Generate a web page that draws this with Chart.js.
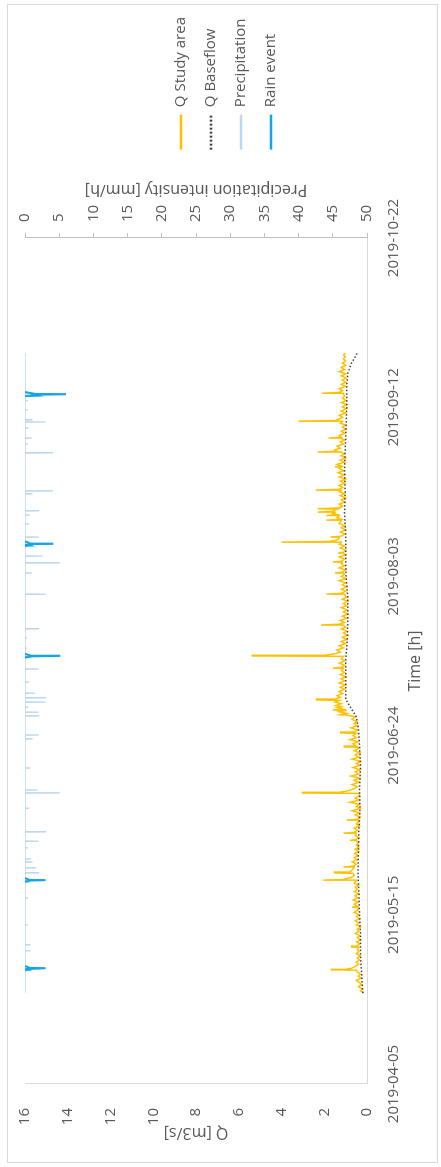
<!DOCTYPE html>
<html>
<head>
<meta charset="utf-8">
<script src="https://cdn.jsdelivr.net/npm/chart.js@4.4.1/dist/chart.umd.min.js"></script>
<style>
  html, body { margin: 0; padding: 0; background: #fff; width: 441px; height: 1167px; overflow: hidden; }
  /* the chart is built landscape and turned a quarter turn counter-clockwise */
  #frame { position: absolute; left: 0; top: 0; width: 1167px; height: 441px;
           transform-origin: 0 0; transform: translate(0, 1167px) rotate(-90deg); }
  #border { position: absolute; left: 4px; top: 7px; width: 1159px; height: 431px;
            border: 1px solid #d9d9d9; box-sizing: border-box; }
  canvas { position: absolute; left: 0; top: 0; }
</style>
</head>
<body>
<div id="frame">
  <div id="border"></div>
  <canvas id="chart" width="1167" height="441"></canvas>
</div>
<script>
// Time axis: days since 2019-04-05
const dateLabels = ['2019-04-05', '2019-05-15', '2019-06-24', '2019-08-03', '2019-09-12', '2019-10-22'];

// Q Study area [m3/s]
const qDays = [21.5, 22.0, 22.5, 23.0, 23.5, 24.0, 24.5, 25.0, 25.5, 26.0, 26.5, 26.9, 27.0, 27.1, 27.4, 27.8,
  28.3, 28.8, 29.3, 29.8, 30.3, 30.8, 31.3, 31.8, 32.3, 32.4, 32.6, 33.1, 33.6, 34.1, 34.6, 35.1, 35.6, 36.1,
  36.6, 37.1, 37.6, 38.1, 38.6, 39.1, 39.6, 40.1, 40.6, 41.1, 41.7, 41.8, 42.0, 42.5, 43.0, 43.5, 44.0, 44.5,
  45.0, 45.5, 46.0, 46.5, 47.0, 47.5, 48.1, 48.2, 48.35, 48.8, 49.3, 49.8, 49.9, 50.1, 50.6, 51.2, 51.3, 51.5,
  52.0, 52.5, 53.0, 53.5, 54.0, 54.5, 55.0, 55.5, 56.0, 56.5, 57.0, 57.5, 57.6, 57.8, 58.3, 58.8, 59.2, 59.3,
  59.5, 60.0, 60.5, 61.0, 61.5, 62.0, 62.3, 62.4, 62.6, 63.1, 63.6, 64.1, 64.6, 65.1, 65.6, 66.1, 66.6, 67.1,
  67.6, 68.1, 68.7, 68.8, 68.95, 69.3, 69.8, 70.3, 70.8, 71.3, 71.8, 72.3, 72.8, 73.3, 73.8, 74.3, 74.8, 75.3,
  75.8, 76.3, 76.8, 77.3, 77.8, 78.3, 78.8, 79.3, 79.6, 79.7, 79.9, 80.4, 80.9, 81.4, 81.9, 82.4, 82.9, 83.0,
  83.2, 83.7, 84.2, 84.7, 85.2, 85.7, 86.2, 86.8, 87.2, 87.3, 87.6, 88.0, 88.3, 88.4, 88.6, 89.0, 89.2, 89.5,
  89.9, 90.3, 90.7, 90.8, 91.0, 91.4, 91.8, 92.3, 92.8, 93.3, 93.8, 94.3, 94.8, 95.3, 95.8, 96.3, 96.8, 97.3,
  97.8, 98.2, 98.3, 98.5, 99.0, 99.5, 100.0, 100.5, 101.1, 101.2, 101.35, 101.7, 102.1, 102.6, 103.1, 103.6,
  104.1, 104.6, 105.1, 105.6, 106.1, 106.6, 107.1, 107.6, 108.0, 108.4, 108.5, 108.7, 109.1, 109.6, 110.1,
  110.6, 111.1, 111.6, 112.1, 112.6, 113.1, 113.6, 114.1, 114.6, 115.1, 115.7, 115.8, 116.0, 116.5, 117.0,
  117.5, 118.0, 118.5, 119.0, 119.5, 120.0, 120.5, 120.7, 120.8, 121.0, 121.5, 122.0, 122.5, 123.0, 123.3,
  123.4, 123.6, 124.1, 124.6, 125.1, 125.4, 125.5, 125.7, 126.2, 126.7, 127.2, 127.6, 128.0, 128.1, 128.25,
  128.5, 128.8, 129.2, 129.3, 129.5, 130.0, 130.5, 131.0, 131.5, 132.0, 132.5, 133.2, 133.3, 133.5, 133.9,
  134.3, 134.4, 134.6, 134.9, 135.1, 135.2, 135.4, 135.7, 135.9, 136.0, 136.2, 136.6, 137.1, 137.6, 138.1,
  138.6, 139.1, 139.6, 140.0, 140.3, 140.4, 140.6, 141.0, 141.5, 142.0, 142.5, 143.0, 143.5, 144.0, 144.5,
  145.0, 145.5, 145.8, 145.9, 146.1, 146.5, 147.0, 147.5, 148.0, 148.5, 149.0, 149.3, 149.4, 149.6, 149.9,
  150.3, 150.8, 151.3, 151.8, 152.2, 152.6, 152.7, 152.9, 153.3, 153.8, 154.3, 154.8, 155.3, 155.8, 156.2,
  156.6, 156.7, 156.85, 157.2, 157.6, 158.1, 158.6, 159.1, 159.6, 160.1, 160.6, 161.1, 161.6, 162.1, 162.6,
  163.2, 163.3, 163.5, 163.9, 164.4, 164.9, 165.4, 165.9, 166.4, 166.9, 167.4, 167.9, 168.4, 168.9, 169.4,
  169.9, 170.4, 170.9, 171.4, 171.9, 172.4, 172.8];
const qValues = [0.15, 0.3, 0.22, 0.4, 0.25, 0.35, 0.5, 0.28, 0.4, 0.3, 0.45, 0.5, 1.7, 1.0, 0.7, 0.55,
  0.4, 0.5, 0.35, 0.45, 0.32, 0.5, 0.38, 0.45, 0.4, 0.75, 0.45, 0.35, 0.48, 0.3, 0.45, 0.35, 0.55, 0.38,
  0.45, 0.3, 0.5, 0.38, 0.55, 0.35, 0.5, 0.4, 0.6, 0.42, 0.45, 0.7, 0.45, 0.6, 0.42, 0.65, 0.45, 0.55,
  0.4, 0.6, 0.45, 0.55, 0.4, 0.6, 0.5, 2.05, 1.1, 0.75, 0.6, 0.65, 1.55, 0.8, 0.7, 0.6, 1.1, 0.65,
  0.5, 0.7, 0.45, 0.6, 0.42, 0.58, 0.4, 0.55, 0.38, 0.5, 0.42, 0.5, 0.8, 0.5, 0.4, 0.55, 0.5, 1.1,
  0.6, 0.45, 0.6, 0.35, 0.5, 0.38, 0.42, 0.95, 0.45, 0.32, 0.55, 0.35, 0.7, 0.33, 0.5, 0.35, 0.8, 0.38,
  0.55, 0.35, 0.4, 3.05, 1.3, 0.9, 0.6, 0.45, 0.7, 0.38, 0.6, 0.35, 0.75, 0.38, 0.55, 0.32, 0.65, 0.35,
  0.5, 0.3, 0.7, 0.38, 0.55, 0.33, 0.6, 0.4, 0.45, 1.1, 0.5, 0.65, 0.42, 0.8, 0.5, 0.65, 0.5, 1.26,
  0.6, 0.45, 0.75, 0.45, 0.6, 0.48, 0.7, 0.55, 0.9, 1.25, 0.95, 1.3, 1.0, 1.6, 1.1, 1.4, 1.2, 1.45,
  1.2, 1.5, 1.3, 2.4, 1.5, 1.25, 1.4, 1.15, 1.3, 1.05, 1.25, 1.0, 1.3, 1.05, 1.2, 1.0, 1.25, 1.05,
  1.2, 1.1, 1.6, 1.2, 1.05, 1.3, 1.05, 1.2, 1.1, 5.4, 2.0, 1.5, 1.25, 1.4, 1.1, 1.3,
  1.0, 1.2, 0.95, 1.15, 0.9, 1.1, 0.95, 1.2, 1.0, 1.1, 2.15, 1.3, 1.05, 1.25, 0.95,
  1.15, 0.9, 1.1, 0.95, 1.2, 0.95, 1.1, 0.9, 1.15, 0.95, 1.05, 1.9, 1.2, 1.0, 1.2,
  0.95, 1.15, 1.0, 1.3, 1.0, 1.2, 1.05, 1.1, 1.5, 1.15, 1.0, 1.3, 1.05, 1.2, 1.15,
  1.6, 1.2, 1.05, 1.3, 1.0, 1.1, 1.35, 1.1, 1.0, 1.25, 1.05, 1.3, 1.2, 4.0, 1.8,
  1.5, 1.35, 1.3, 1.7, 1.2, 1.05, 1.25, 1.0, 1.2, 1.05, 1.3, 1.2, 1.9, 1.2, 1.4,
  1.3, 1.9, 1.4, 1.6, 1.5, 2.3, 1.6, 1.5, 1.4, 2.3, 1.3, 1.15, 1.3, 1.05, 1.2,
  1.0, 1.25, 1.05, 1.3, 1.2, 2.4, 1.3, 1.15, 1.3, 1.05, 1.25, 1.0, 1.3, 1.05, 1.35,
  1.1, 1.3, 1.2, 1.5, 1.2, 1.4, 1.05, 1.25, 1.0, 1.2, 1.05, 1.2, 2.3, 1.4, 1.5,
  1.25, 1.4, 1.1, 1.25, 1.05, 1.2, 1.8, 1.2, 1.3, 1.05, 1.2, 0.98, 1.15, 1.0, 1.25,
  1.15, 3.2, 1.5, 1.3, 1.15, 1.3, 1.0, 1.2, 0.98, 1.15, 0.95, 1.2, 0.98, 1.15, 1.05,
  1.1, 2.1, 1.3, 1.15, 1.3, 1.0, 1.2, 1.0, 1.15, 0.98, 1.2, 1.0, 1.3, 1.05, 1.2,
  1.0, 1.15, 1.0, 1.1, 1.02, 1.1, 1.0];

// Q Baseflow [m3/s]
const baseDays = [21.5, 26, 30, 35, 40, 45, 50, 55, 60, 65, 70, 75, 80, 84, 86.8, 91.0, 95, 100, 105, 110,
  115, 120, 125, 130, 135, 140, 145, 150, 155, 160, 165, 168, 170.5, 172.8];
const baseValues = [0.2, 0.25, 0.3, 0.3, 0.35, 0.38, 0.42, 0.4, 0.38, 0.33, 0.35, 0.3, 0.35, 0.4, 0.5, 1.0, 1.0, 1.0, 0.92, 0.9,
  0.9, 0.98, 1.0, 1.0, 1.05, 1.02, 1.05, 1.02, 0.98, 0.95, 0.95, 0.9, 0.72, 0.45];

// Precipitation intensity [mm/h]: hourly peaks, zero otherwise
const precipStart = 21.5, precipEnd = 172.8;
const precipDays = [27.2, 27.4, 31.5, 32.9, 37.6, 44.0, 48.2, 49.9, 51.1, 52.5, 53.2, 55.8, 57.4, 59.6, 65.2,
  68.8, 69.5, 74.7, 81.6, 82.5, 87.0, 87.9, 89.1, 90.3, 91.3, 92.4, 95.0, 98.1, 101.2, 103.0, 105.4, 107.6,
  115.8, 120.8, 123.2, 124.8, 127.7, 129.3, 132.4, 134.5, 135.5, 139.5, 140.2, 149.2, 151.3, 152.7, 155.1,
  156.5, 157.0, 159.3, 161.5, 163.1];
const precipValues = [0.8, 3.0, 0.8, 0.7, 0.3, 0.3, 3.0, 2.0, 1.5, 1.0, 0.8, 0.3, 2.0, 3.0, 0.6,
  5.0, 1.8, 0.8, 1.0, 2.0, 2.0, 2.0, 0.5, 3.0, 3.0, 1.5, 0.6, 2.0, 5.0, 0.3, 0.3, 2.0,
  3.0, 1.0, 5.0, 2.6, 4.0, 2.0, 0.5, 0.7, 2.0, 1.0, 4.0, 4.0, 0.4, 1.0, 0.4,
  3.0, 1.0, 0.4, 0.3, 6.0];

// Rain event [mm/h] (null separates events)
const rainDays = [26.9, 27.0, 27.2, 27.35, 27.4, 27.45, 27.7, 27.9, 28.0,
  47.8, 47.9, 48.1, 48.2, 48.25, 48.5, 48.7, 48.8,
  100.8, 100.9, 101.1, 101.2, 101.25, 101.5, 101.7, 101.8,
  127.2, 127.3, 127.5, 127.65, 127.7, 127.75, 128.0, 128.3, 128.4,
  162.6, 162.7, 162.9, 163.05, 163.1, 163.15, 163.4, 163.6];
const rainValues = [0, 0.6, 0.4, 0.9, 3.0, 0.7, 0.3, 0, null,
  0, 0.5, 0.8, 3.0, 0.6, 0.3, 0, null,
  0, 0.5, 1.0, 5.0, 0.9, 0.4, 0, null,
  0, 0.8, 0.5, 1.2, 4.0, 0.8, 0.5, 0, null,
  0, 1.5, 0.8, 2.0, 6.0, 1.5, 0.6, 0];

function toPoints(xs, ys) {
  return xs.map((x, i) => ({ x: x, y: ys[i] }));
}

function spikeLine(days, values, start, end) {
  const pts = [{ x: start, y: 0 }];
  days.forEach((d, i) => {
    pts.push({ x: d - 0.05, y: 0 }, { x: d, y: values[i] }, { x: d + 0.05, y: 0 });
  });
  pts.push({ x: end, y: 0 });
  return pts;
}

const PLOT_LEFT = 83, PLOT_RIGHT = 929, PLOT_BOTTOM = 367, PAD_RIGHT = 7;
const textColor = '#595959';

Chart.defaults.font.family = '"Open Sans", sans-serif';
Chart.defaults.font.size = 15;
Chart.defaults.color = textColor;

// secondary axis title reads bottom-to-top like the primary one
const precipTitle = {
  id: 'precipTitle',
  afterLayout(chart) {
    // legend sits a little above the vertical centre
    chart.legend.top -= 7;
    chart.legend.bottom -= 7;
  },
  afterDraw(chart) {
    const c = chart.ctx;
    const area = chart.chartArea;
    c.save();
    c.translate(chart.scales.p.left + 48, (area.top + area.bottom) / 2);
    c.rotate(-Math.PI / 2);
    c.font = '16px "Open Sans"';
    c.fillStyle = textColor;
    c.textAlign = 'center';
    c.textBaseline = 'middle';
    c.fillText('Precipitation intensity [mm/h]', 0, 0);
    c.restore();
  }
};

new Chart(document.getElementById('chart'), {
  type: 'line',
  data: {
    datasets: [{
      label: 'Q Study area',
      data: toPoints(qDays, qValues),
      borderColor: '#FFC000',
      backgroundColor: '#FFC000',
      borderWidth: 1.5,
      yAxisID: 'q',
      order: 2
    }, {
      label: 'Q Baseflow',
      data: toPoints(baseDays, baseValues),
      borderColor: '#404040',
      backgroundColor: '#404040',
      borderWidth: 1.5,
      borderDash: [1.5, 2],
      yAxisID: 'q',
      order: 1
    }, {
      label: 'Precipitation',
      data: spikeLine(precipDays, precipValues, precipStart, precipEnd),
      borderColor: '#BDD7EE',
      backgroundColor: '#BDD7EE',
      borderWidth: 1.3,
      yAxisID: 'p',
      order: 4
    }, {
      label: 'Rain event',
      data: toPoints(rainDays, rainValues),
      borderColor: '#12A5E8',
      backgroundColor: '#12A5E8',
      borderWidth: 2,
      spanGaps: false,
      yAxisID: 'p',
      order: 3
    }]
  },
  options: {
    responsive: false,
    animation: false,
    devicePixelRatio: 1,
    elements: {
      point: { radius: 0 },
      line: { tension: 0 }
    },
    layout: {
      padding: { top: 25, right: PAD_RIGHT, bottom: 0, left: 0 }
    },
    plugins: {
      legend: {
        position: 'right',
        labels: {
          usePointStyle: true,
          pointStyle: 'line',
          pointStyleWidth: 35,
          padding: 15,
          color: textColor,
          font: { size: 15 },
          sort: (a, b) => a.datasetIndex - b.datasetIndex,
          generateLabels: function(chart) {
            return Chart.defaults.plugins.legend.labels.generateLabels(chart).map(function(item) {
              item.lineWidth = 2.5;
              if (item.text === 'Q Baseflow') {
                item.lineDash = [2, 2];
              }
              return item;
            });
          }
        }
      },
      tooltip: { enabled: false }
    },
    scales: {
      x: {
        type: 'linear',
        min: 0,
        max: 200,
        ticks: {
          stepSize: 40,
          autoSkip: false,
          maxRotation: 0,
          padding: 10,
          callback: function(value, index) {
            return dateLabels[index];
          }
        },
        grid: { display: false },
        border: { color: '#d9d9d9' },
        title: {
          display: true,
          text: 'Time [h]',
          font: { size: 16 },
          padding: { top: 0, bottom: 16 }
        },
        afterFit: function(scale) {
          scale.height = 441 - PLOT_BOTTOM;
        }
      },
      q: {
        position: 'left',
        min: 0,
        max: 16,
        ticks: { stepSize: 2, padding: 16 },
        grid: { display: false },
        border: { color: '#d9d9d9' },
        title: {
          display: true,
          text: 'Q [m3/s]',
          font: { size: 16 },
          padding: { top: 25, bottom: 0 }
        },
        afterFit: function(scale) {
          scale.width = PLOT_LEFT;
        }
      },
      p: {
        position: 'right',
        min: 0,
        max: 50,
        reverse: true,
        ticks: { stepSize: 5, padding: 11 },
        grid: { drawOnChartArea: false, drawTicks: true, tickLength: 5, color: '#bfbfbf' },
        border: { color: '#bfbfbf' },
        afterFit: function(scale) {
          const legendWidth = scale.chart.legend ? scale.chart.legend.width : 0;
          scale.width = 1167 - PAD_RIGHT - PLOT_RIGHT - legendWidth;
        }
      }
    }
  },
  plugins: [precipTitle]
});
</script>
</body>
</html>
